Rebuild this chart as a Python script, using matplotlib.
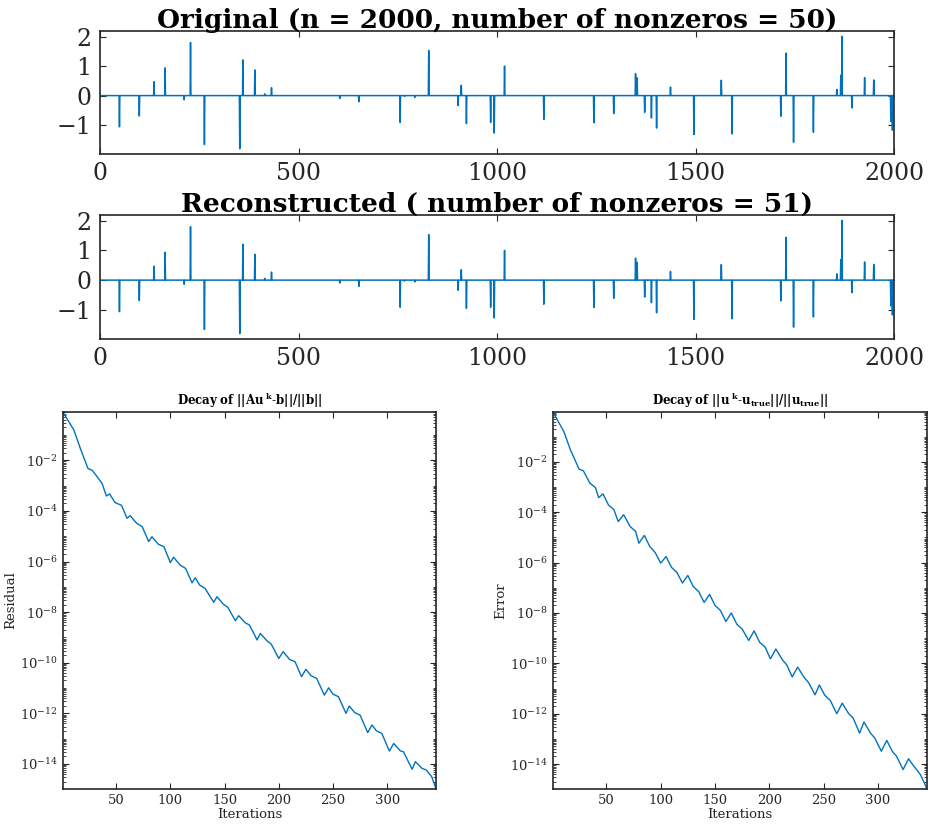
import numpy as np
import matplotlib
matplotlib.use("Agg")
import matplotlib.pyplot as plt
from matplotlib.ticker import LogLocator, FixedLocator, NullFormatter

plt.rcParams['font.family'] = ['DejaVu Serif']
plt.rcParams['mathtext.fontset'] = 'dejavuserif'

# ---------------- data ----------------
n = 2000
spike_pos = [49, 99, 136, 164, 212, 228, 263, 352, 360, 390, 415, 432, 604, 652, 756, 767,
             793, 828, 902, 910, 923, 984, 993, 1019, 1118, 1244, 1294, 1349, 1353, 1372,
             1389, 1402, 1437, 1496, 1565, 1592, 1715, 1728, 1747, 1797, 1856, 1866, 1869,
             1894, 1926, 1949, 1992, 1996]
spike_orig = [-1.06, -0.69, 0.47, 0.94, -0.14, 1.80, -1.66, -1.80, 1.21, 0.87, 0.06, 0.27,
              -0.10, -0.21, -0.91, -0.03, -0.06, 1.53, -0.34, 0.35, -0.95, -0.91, -1.27, 1.00,
              -0.81, -0.92, -0.61, 0.74, 0.60, -0.57, -0.76, -1.10, 0.29, -1.32, 0.52, -1.30,
              -0.70, 1.44, -1.58, -1.24, 0.21, 0.69, 2.01, -0.42, 0.61, 0.53, -0.87, -1.17]
spike_rec = list(spike_orig)
extra_rec_pos = [1380]
extra_rec_val = [0.01]

res_iter = [1, 11, 17, 24, 28, 32, 37, 41, 44, 49, 55, 60, 63, 69, 74, 80, 83, 89, 94, 100,
            103, 109, 114, 120, 123, 127, 132, 140, 143, 149, 153, 160, 163, 169, 173, 180,
            183, 189, 193, 200, 204, 210, 215, 221, 225, 230, 235, 242, 246, 250, 255, 262,
            265, 270, 275, 282, 286, 290, 295, 302, 306, 312, 315, 323, 326, 332, 336, 341, 345]
res_log10 = [-0.10, -0.80, -1.53, -2.32, -2.40, -2.62, -2.91, -3.41, -3.33, -3.67, -3.78,
             -4.29, -4.19, -4.49, -4.62, -5.21, -5.02, -5.32, -5.41, -6.04, -5.83, -6.14,
             -6.27, -6.84, -6.64, -6.93, -7.06, -7.61, -7.39, -7.69, -7.81, -8.34, -8.14,
             -8.42, -8.51, -9.10, -8.84, -9.13, -9.26, -9.83, -9.56, -9.87, -9.96, -10.55,
             -10.26, -10.52, -10.62, -11.28, -10.99, -11.24, -11.34, -12.00, -11.71, -11.97,
             -12.07, -12.76, -12.46, -12.69, -12.79, -13.49, -13.19, -13.48, -13.52, -14.21,
             -13.91, -14.17, -14.24, -14.50, -14.98]

err_iter = [1, 11, 17, 25, 29, 35, 40, 43, 47, 52, 57, 61, 66, 72, 77, 80, 85, 90, 95, 100,
            105, 110, 115, 120, 125, 130, 135, 140, 145, 150, 155, 160, 165, 170, 175, 181,
            186, 191, 196, 201, 206, 212, 216, 221, 226, 232, 236, 242, 246, 251, 256, 262,
            267, 273, 277, 283, 287, 293, 297, 303, 308, 313, 317, 323, 328, 333, 339, 345]
err_log10 = [-0.02, -0.80, -1.52, -2.29, -2.36, -2.85, -3.02, -3.42, -3.27, -3.71, -3.90,
             -4.37, -4.10, -4.57, -4.76, -5.23, -4.92, -5.36, -5.60, -6.02, -5.76, -6.19,
             -6.39, -6.81, -6.51, -6.95, -7.15, -7.58, -7.26, -7.70, -7.90, -8.34, -8.00,
             -8.44, -8.64, -9.09, -8.71, -9.16, -9.35, -9.82, -9.43, -9.86, -10.06, -10.54,
             -10.15, -10.56, -10.76, -11.25, -10.86, -11.27, -11.47, -12.00, -11.58, -12.00,
             -12.17, -12.77, -12.33, -12.77, -12.97, -13.49, -13.06, -13.49, -13.69, -14.22,
             -13.79, -14.09, -14.42, -14.98]

top_xticks = [0, 500, 1000, 1500, 2000]
top_yticks = [-1, 0, 1, 2]
bot_xticks = [50, 100, 150, 200, 250, 300]
bot_yexp = [-14, -12, -10, -8, -6, -4, -2]

# ---------------- figure ----------------
W, H = 934, 831
fig = plt.figure(figsize=(W / 100, H / 100), dpi=100)
blue = '#0072BD'
gray = '#262626'


def fr(x0, x1, y0, y1):
    return [x0 / W, 1 - y1 / H, (x1 - x0) / W, (y1 - y0) / H]


def spikes(pos, vals, extra_pos=(), extra_val=()):
    u = np.zeros(n)
    for p, v in zip(pos, vals):
        u[p - 1] = v
    for p, v in zip(extra_pos, extra_val):
        u[p - 1] = v
    return u


idx = np.arange(1, n + 1)
panels = [
    (fr(100, 894, 31, 154), spikes(spike_pos, spike_orig),
     'Original (n = 2000, number of nonzeros = 50)'),
    (fr(100, 894, 215, 339), spikes(spike_pos, spike_rec, extra_rec_pos, extra_rec_val),
     'Reconstructed ( number of nonzeros = 51)'),
]
for rect, u, title in panels:
    ax = fig.add_axes(rect)
    ax.plot(idx, u, color=blue, lw=1.1)
    ax.set_xlim(0, 2000)
    ax.set_ylim(-1.98, 2.19)
    ax.set_xticks(top_xticks)
    ax.set_yticks(top_yticks)
    ax.set_yticklabels(['\u22121', '0', '1', '2'])
    ax.tick_params(direction='in', top=True, right=True, length=4, width=0.8,
                   labelsize=17, colors=gray, labelcolor=gray)
    ax.tick_params(axis='x', pad=6)
    ax.tick_params(axis='y', pad=6)
    for s in ax.spines.values():
        s.set_color(gray)
        s.set_linewidth(1.2)
    ax.set_title(title, fontsize=19, fontweight='bold', pad=2)

bottom = [
    (fr(63, 436, 412, 789), res_iter, res_log10, 'Residual',
     r'$\mathbf{Decay\ of\ ||Au}^{\ \mathbf{k}}\mathbf{\text{-}b||/||b||}$', -0.09),
    (fr(553, 927, 412, 789), err_iter, err_log10, 'Error',
     r'$\mathbf{Decay\ of\ ||u}^{\ \mathbf{k}}\mathbf{\text{-}u}_{\mathbf{true}}\mathbf{||/||u}_{\mathbf{true}}\mathbf{||}$', -0.02),
]
for rect, it, lg, ylab, title, ytop in bottom:
    ax = fig.add_axes(rect)
    ax.semilogy(it, 10.0 ** np.array(lg), color=blue, lw=1.0)
    ax.set_xlim(1, 345)
    ax.set_ylim(10 ** -14.99, 10 ** ytop)
    ax.set_xticks(bot_xticks)
    ax.yaxis.set_major_locator(FixedLocator([10.0 ** e for e in bot_yexp]))
    ax.yaxis.set_minor_locator(LogLocator(base=10, subs=np.arange(1, 10), numticks=100))
    ax.yaxis.set_minor_formatter(NullFormatter())
    ax.set_yticklabels([r'$10^{%d}$' % e for e in bot_yexp])
    ax.tick_params(which='both', direction='in', top=True, right=True, colors=gray,
                   labelcolor=gray, labelsize=9.5)
    ax.tick_params(which='major', length=4, width=0.8)
    ax.tick_params(which='minor', length=2.5, width=0.6)
    for s in ax.spines.values():
        s.set_color(gray)
        s.set_linewidth(1.2)
    ax.set_xlabel('Iterations', fontsize=9.5, color=gray, labelpad=1)
    ax.set_ylabel(ylab, fontsize=9.5, color=gray, labelpad=2)
    ax.set_title(title, fontsize=8.5, pad=5)

fig.savefig('out.png', dpi=100)
